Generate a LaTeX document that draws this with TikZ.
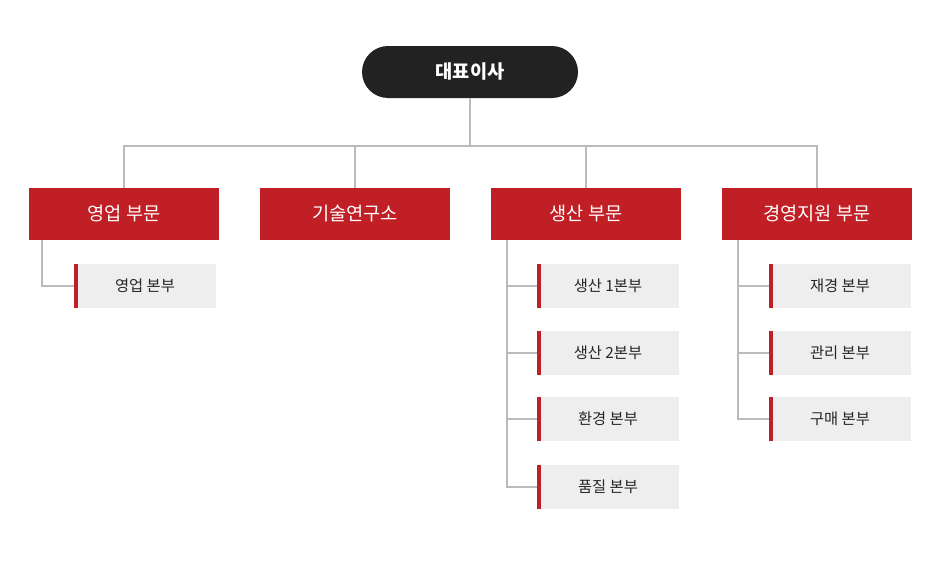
\documentclass[tikz,border=0pt]{standalone}
\usepackage{fontspec}
\setmainfont{Noto Sans CJK KR}
\definecolor{myred}{HTML}{C01F25}
\definecolor{mydark}{HTML}{222222}
\definecolor{mygray}{HTML}{EEEEEE}
\definecolor{myline}{HTML}{BBBBBB}
\begin{document}
\begin{tikzpicture}[x=0.75pt,y=-0.75pt,
  topbox/.style={fill=mydark,rounded corners=19.5pt,minimum width=162pt,minimum height=39pt,text=white,font=\fontsize{14}{16}\selectfont\bfseries},
  redbox/.style={fill=myred,minimum width=142.5pt,minimum height=39pt,text=white,font=\fontsize{14}{16}\selectfont},
  subbox/.style={fill=mygray,minimum width=106.5pt,minimum height=33pt,font=\fontsize{11.5}{13}\selectfont,text=black!85},
  conn/.style={draw=myline,line width=1.1pt}]
\useasboundingbox (0,0) rectangle (940,575);
\node[topbox] (top) at (470,72) {대표이사};
\node[redbox] (a) at (124,214) {영업 부문};
\node[redbox] (b) at (355,214) {기술연구소};
\node[redbox] (c) at (586,214) {생산 부문};
\node[redbox] (d) at (817,214) {경영지원 부문};
\coordinate (j) at (470,146);
\draw[conn] (top.south) -- (j);
\draw[conn] (a.north) |- (d.north |- j) -- (d.north);
\draw[conn] (b.north) -- (b.north |- j);
\draw[conn] (c.north) -- (c.north |- j);
\newcommand{\subnode}[4]{%
  \node[subbox] (#1) at (#2,#3) {#4};
  \fill[myred] (#1.north west) rectangle ([xshift=3pt]#1.south west);}
\subnode{a1}{145}{286}{영업 본부}
\subnode{c1}{608}{286}{생산 1본부}
\subnode{c2}{608}{353}{생산 2본부}
\subnode{c3}{608}{419}{환경 본부}
\subnode{c4}{608}{487}{품질 본부}
\subnode{d1}{840}{286}{재경 본부}
\subnode{d2}{840}{353}{관리 본부}
\subnode{d3}{840}{419}{구매 본부}
\coordinate (ta) at (42,240);
\coordinate (tc) at (507,240);
\coordinate (td) at (738,240);
\draw[conn] (ta) |- (a1.west);
\draw[conn] (tc) |- (c4.west);
\foreach \n in {c1,c2,c3} \draw[conn] (tc |- \n.west) -- (\n.west);
\draw[conn] (td) |- (d3.west);
\foreach \n in {d1,d2} \draw[conn] (td |- \n.west) -- (\n.west);
\end{tikzpicture}
\end{document}
